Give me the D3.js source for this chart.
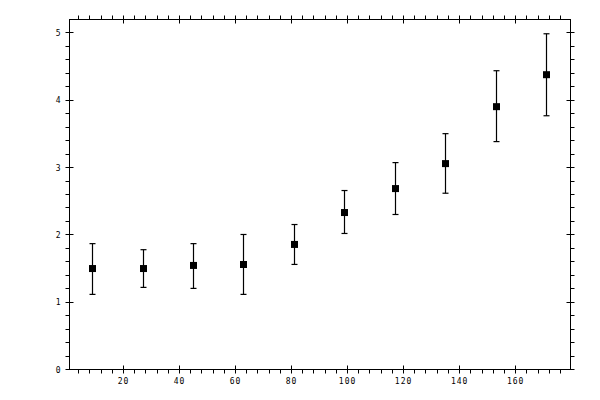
<!DOCTYPE html>
<html>
<head>
<meta charset="utf-8">
<script src="https://cdn.jsdelivr.net/npm/d3@7"></script>
<style>
  body { margin: 0; background: #fff; }
  svg { display: block; }
</style>
</head>
<body>
<svg id="chart" width="600" height="400"></svg>
<script>
const xs     = [8.9, 27.1, 45.0, 62.9, 81.1, 98.9, 117.1, 135.0, 153.0, 171.0];
const ys     = [1.50, 1.50, 1.546, 1.56, 1.858, 2.332, 2.688, 3.059, 3.905, 4.38];
const yHigh  = [1.87, 1.78, 1.87, 2.006, 2.154, 2.659, 3.074, 3.504, 4.439, 4.988];
const yLow   = [1.116, 1.22, 1.205, 1.116, 1.561, 2.021, 2.303, 2.619, 3.386, 3.77];
const xTicks = [20, 40, 60, 80, 100, 120, 140, 160];
const yTicks = [0, 1, 2, 3, 4, 5];

const margin = {top: 19.5, right: 29.5, bottom: 30.5, left: 69.5};
const width = 600 - margin.left - margin.right;
const height = 400 - margin.top - margin.bottom;

const svg = d3.select("#chart");
const g = svg.append("g").attr("transform", `translate(${margin.left},${margin.top})`);

const x = d3.scaleLinear().domain([0.7, 179.6]).range([0, width]);
const y = d3.scaleLinear().domain([0, 5.2]).range([height, 0]);

const xMinor = d3.range(4, 180, 4).filter(v => v % 20 !== 0);
const yMinor = d3.range(0, 5.2, 0.2).map(v => +v.toFixed(1)).filter(v => Math.abs(v - Math.round(v)) > 0.01);

// frame
g.append("rect")
    .attr("width", width).attr("height", height)
    .attr("fill", "none").attr("stroke", "#000").attr("stroke-width", 1);

const tickStyle = sel => sel.attr("stroke", "#000").attr("stroke-width", 1);

// bottom & top ticks
g.selectAll(".xmin-b").data(xMinor).enter().append("line")
    .attr("x1", d => Math.round(x(d))).attr("x2", d => Math.round(x(d)))
    .attr("y1", height).attr("y2", height + 4).call(tickStyle);
g.selectAll(".xmaj-b").data(xTicks).enter().append("line")
    .attr("x1", d => Math.round(x(d))).attr("x2", d => Math.round(x(d)))
    .attr("y1", height - 4).attr("y2", height + 4).call(tickStyle);
g.selectAll(".xmin-t").data(xMinor).enter().append("line")
    .attr("x1", d => Math.round(x(d))).attr("x2", d => Math.round(x(d)))
    .attr("y1", 0).attr("y2", -4).call(tickStyle);
g.selectAll(".xmaj-t").data(xTicks).enter().append("line")
    .attr("x1", d => Math.round(x(d))).attr("x2", d => Math.round(x(d)))
    .attr("y1", -4).attr("y2", 4).call(tickStyle);

// left & right ticks
g.selectAll(".ymin-l").data(yMinor).enter().append("line")
    .attr("y1", d => Math.round(y(d))).attr("y2", d => Math.round(y(d)))
    .attr("x1", 0).attr("x2", -4).call(tickStyle);
g.selectAll(".ymaj-l").data(yTicks).enter().append("line")
    .attr("y1", d => Math.round(y(d))).attr("y2", d => Math.round(y(d)))
    .attr("x1", -4).attr("x2", 4).call(tickStyle);
g.selectAll(".ymin-r").data(yMinor).enter().append("line")
    .attr("y1", d => Math.round(y(d))).attr("y2", d => Math.round(y(d)))
    .attr("x1", width).attr("x2", width + 4).call(tickStyle);
g.selectAll(".ymaj-r").data(yTicks).enter().append("line")
    .attr("y1", d => Math.round(y(d))).attr("y2", d => Math.round(y(d)))
    .attr("x1", width - 4).attr("x2", width + 4).call(tickStyle);

// tick labels
g.selectAll(".xlab").data(xTicks).enter().append("text")
    .attr("x", d => x(d)).attr("y", height + 14.5)
    .attr("text-anchor", "middle")
    .style("font-family", "DejaVu Sans Mono")
    .style("font-size", "8px")
    .style("letter-spacing", "1px")
    .text(d => d);
g.selectAll(".ylab").data(yTicks).enter().append("text")
    .attr("x", -9).attr("y", d => y(d) + 3)
    .attr("text-anchor", "end")
    .style("font-family", "DejaVu Sans Mono")
    .style("font-size", "8px")
    .text(d => d);

// error bars
const pts = xs.map((v, i) => ({x: v, y: ys[i], hi: yHigh[i], lo: yLow[i]}));
const bars = g.append("g").attr("stroke", "#000").attr("stroke-width", 1.2);
pts.forEach(d => {
    const cx = Math.round(x(d.x));
    bars.append("line").attr("x1", cx).attr("x2", cx).attr("y1", y(d.hi)).attr("y2", y(d.lo));
    bars.append("line").attr("x1", cx - 3).attr("x2", cx + 3).attr("y1", y(d.hi)).attr("y2", y(d.hi));
    bars.append("line").attr("x1", cx - 3).attr("x2", cx + 3).attr("y1", y(d.lo)).attr("y2", y(d.lo));
});

// markers
g.selectAll(".pt").data(pts).enter().append("rect")
    .attr("x", d => Math.round(x(d.x)) - 3.5)
    .attr("y", d => y(d.y) - 3.5)
    .attr("width", 7).attr("height", 7)
    .attr("fill", "#000");
</script>
</body>
</html>
